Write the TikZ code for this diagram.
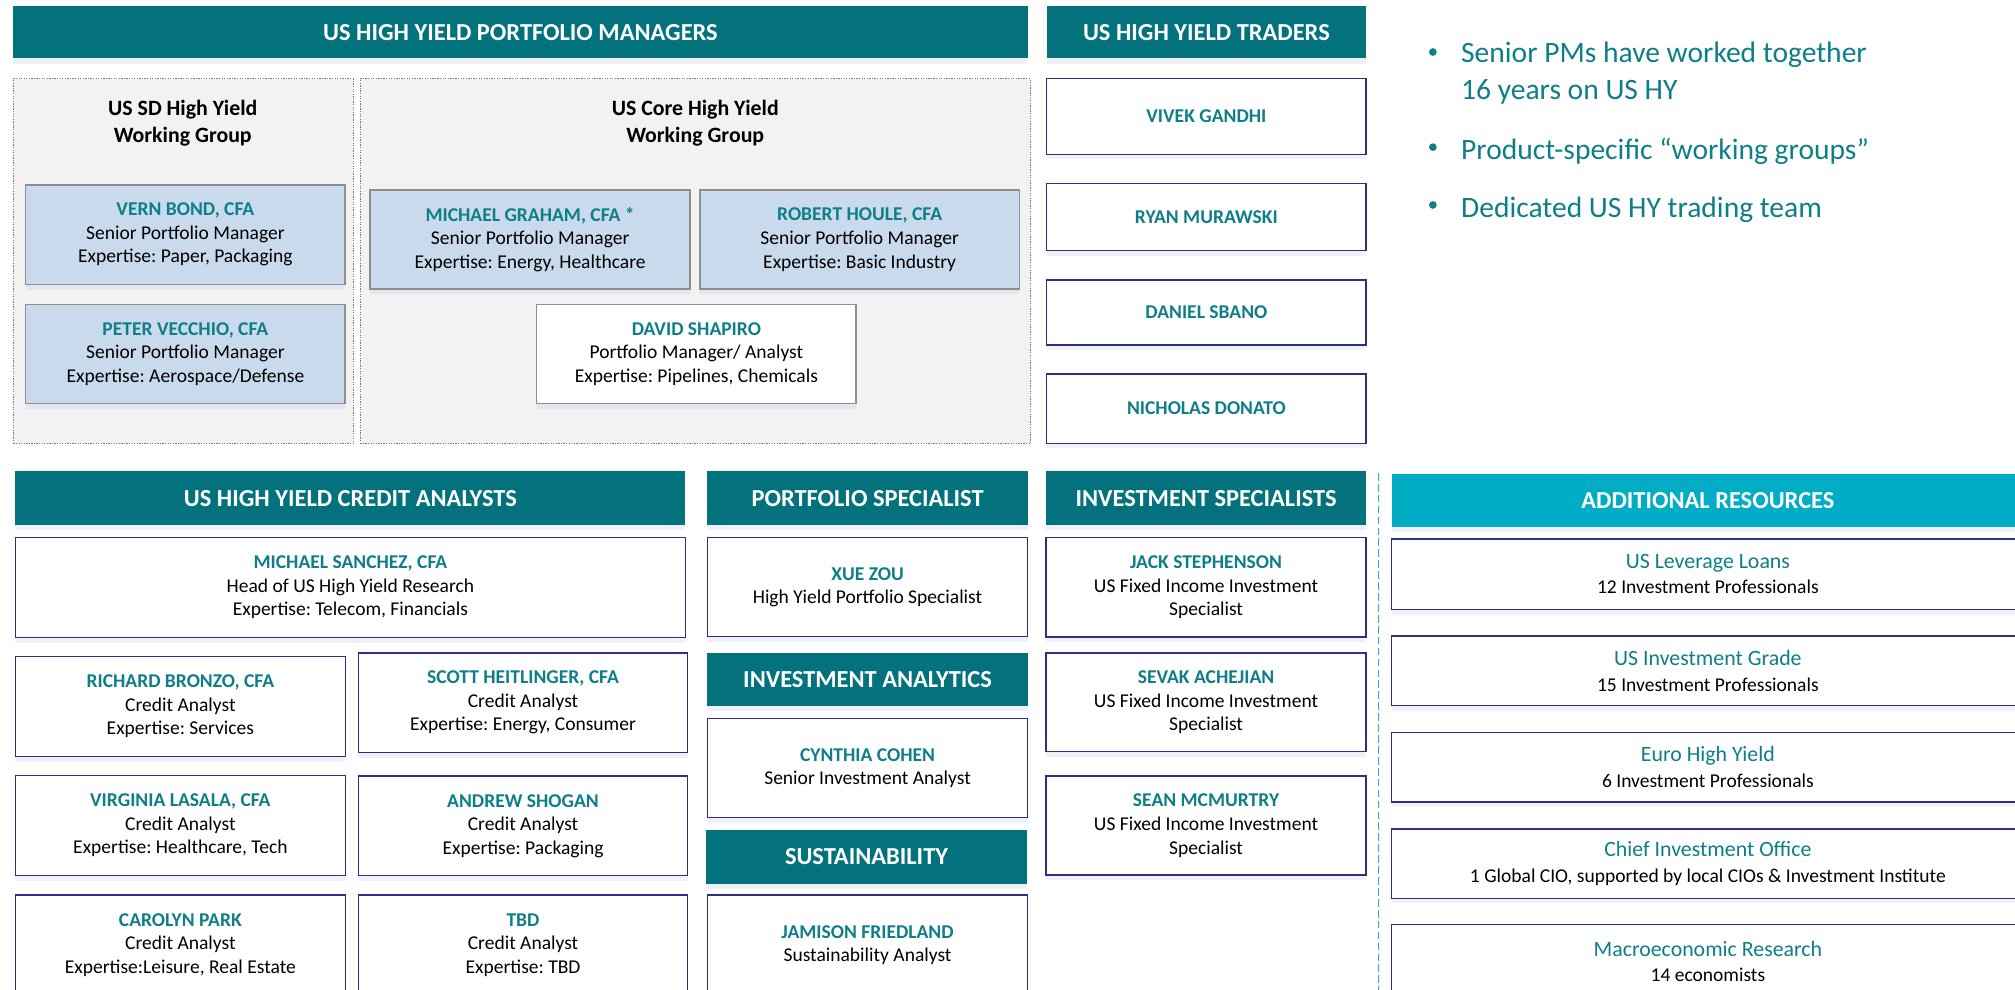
\documentclass[tikz,border=0pt]{standalone}
\usepackage{fontspec}
\setmainfont{Carlito}
\usetikzlibrary{shadows}
\frenchspacing

\definecolor{hdark}{HTML}{03727C}
\definecolor{hlight}{HTML}{00ADC4}
\definecolor{nametxt}{HTML}{0E7E88}
\definecolor{pmfill}{HTML}{C9DAEC}
\definecolor{pmline}{HTML}{8E8E8E}
\definecolor{grpfill}{HTML}{F2F2F2}
\definecolor{grpline}{HTML}{7A7A7A}
\definecolor{navyline}{HTML}{2E2E86}
\definecolor{sepline}{HTML}{1FB4CB}
\definecolor{shade}{HTML}{8F9FD8}

\tikzset{
  box/.style={anchor=north west, inner sep=0pt, outer sep=0pt, align=center,
    line width=1.1pt, font=\fontsize{15.2}{18.3}\selectfont,
    drop shadow={shadow xshift=0pt, shadow yshift=-4pt, opacity=0.14, fill=shade}},
  headbar/.style={box, fill=hdark, text=white, font=\bfseries\fontsize{19}{22}\selectfont},
  sidebar/.style={headbar, fill=hlight},
  pmbox/.style={box, fill=pmfill, draw=pmline},
  wbox/.style={box, fill=white, draw=navyline},
  grpbox/.style={anchor=north west, inner sep=0pt, fill=grpfill, draw=grpline,
    line width=0.8pt, dash pattern=on 1pt off 1pt},
  grptitle/.style={align=center, inner sep=0pt, font=\bfseries\fontsize{17}{20.8}\selectfont},
  tradebox/.style={wbox, text=nametxt, font=\bfseries\fontsize{15.2}{18.3}\selectfont},
  resbox/.style={wbox, font=\fontsize{15.2}{20}\selectfont},
  bullettxt/.style={anchor=west, align=left, inner sep=0pt, text=nametxt,
    font=\fontsize{23}{28.5}\selectfont},
}
\newcommand\nm[1]{{\bfseries\color{nametxt}#1}}
\newcommand\restitle[1]{{\fontsize{17}{20}\selectfont\color{nametxt}#1}}

\begin{document}
\begin{tikzpicture}[x=1pt, y=-1pt]
\useasboundingbox (0,0) rectangle (1568,770);
\clip (0,0) rectangle (1568,770);

% ---------- portfolio managers ----------
\node[headbar, minimum width=790, minimum height=40.5] (hpm) at (10,5) {US HIGH YIELD PORTFOLIO MANAGERS};
\node[headbar, minimum width=248.5, minimum height=40.5] (htr) at (814.5,5) {US HIGH YIELD TRADERS};

\node[grpbox, minimum width=264.5, minimum height=284] (gsd) at (10,61) {};
\node[grpbox, minimum width=521.5, minimum height=284] (gcore) at (280,61) {};
\node[grptitle] (tsd) at (142.2,96) {US SD High Yield\\Working Group};
\node[grptitle] (tcore) at (541,96) {US Core High Yield\\Working Group};

\node[pmbox, minimum width=248.5, minimum height=77.3] (vern) at (20,144)
  {\nm{VERN BOND, CFA}\\Senior Portfolio Manager\\Expertise: Paper, Packaging};
\node[pmbox, minimum width=248.5, minimum height=77] (peter) at (20,237)
  {\nm{PETER VECCHIO, CFA}\\Senior Portfolio Manager\\Expertise: Aerospace/Defense};
\node[pmbox, minimum width=249, minimum height=77] (graham) at (288,148)
  {\nm{MICHAEL GRAHAM, CFA *}\\Senior Portfolio Manager\\Expertise: Energy, Healthcare};
\node[pmbox, minimum width=248.5, minimum height=77] (houle) at (544.7,148)
  {\nm{ROBERT HOULE, CFA}\\Senior Portfolio Manager\\Expertise: Basic Industry};
\node[box, fill=white, draw=pmline, minimum width=248.6, minimum height=77] (shapiro) at (417.6,237)
  {\nm{DAVID SHAPIRO}\\Portfolio Manager/ Analyst\\Expertise: Pipelines, Chemicals};

% ---------- traders ----------
\node[tradebox, minimum width=248.5, minimum height=59] (vivek) at (814.5,61) {VIVEK GANDHI};
\node[tradebox, minimum width=248.5, minimum height=52] (ryan) at (814.5,143) {RYAN MURAWSKI};
\node[tradebox, minimum width=248.5, minimum height=50.5] (daniel) at (814.5,218) {DANIEL SBANO};
\node[tradebox, minimum width=248.5, minimum height=54] (nicholas) at (814.5,291) {NICHOLAS DONATO};

% ---------- key points ----------
\fill[nametxt] (1115,40.5) circle (3pt);
\fill[nametxt] (1115,114.5) circle (3pt);
\fill[nametxt] (1115,159.5) circle (3pt);
\node[bullettxt] (pt1) at (1136.8,57) {Senior PMs have worked together\\16 years on US HY};
\node[bullettxt] (pt2) at (1136.8,118) {Product-specific “working groups”};
\node[bullettxt] (pt3) at (1136.8,162.9) {Dedicated US HY trading team};

% ---------- credit analysts ----------
\node[headbar, minimum width=521.3, minimum height=42] (hca) at (12,366.6) {US HIGH YIELD CREDIT ANALYSTS};
\node[wbox, minimum width=521.3, minimum height=77.6] (sanchez) at (12,418.4)
  {\nm{MICHAEL SANCHEZ, CFA}\\Head of US High Yield Research\\Expertise: Telecom, Financials};
\node[wbox, minimum width=256.7, minimum height=77.6] (bronzo) at (12,511)
  {\nm{RICHARD BRONZO, CFA}\\Credit Analyst\\Expertise: Services};
\node[wbox, minimum width=256.4, minimum height=77.5] (heitlinger) at (278.8,508)
  {\nm{SCOTT HEITLINGER, CFA}\\Credit Analyst\\Expertise: Energy, Consumer};
\node[wbox, minimum width=256.7, minimum height=77.6] (lasala) at (12,603.6)
  {\nm{VIRGINIA LASALA, CFA}\\Credit Analyst\\Expertise: Healthcare, Tech};
\node[wbox, minimum width=256.4, minimum height=77.2] (shogan) at (278.8,604)
  {\nm{ANDREW SHOGAN}\\Credit Analyst\\Expertise: Packaging};
\node[wbox, minimum width=256.7, minimum height=77.8] (park) at (12,696.5)
  {\nm{CAROLYN PARK}\\Credit Analyst\\Expertise:Leisure, Real Estate};
\node[wbox, minimum width=256.4, minimum height=77.8] (tbd) at (278.8,696.5)
  {\nm{TBD}\\Credit Analyst\\Expertise: TBD};

% ---------- portfolio specialist / analytics / sustainability ----------
\node[headbar, minimum width=249.2, minimum height=42] (hps) at (550.5,366.6) {PORTFOLIO SPECIALIST};
\node[wbox, minimum width=249.2, minimum height=77.1] (zou) at (550.5,418.4)
  {\nm{XUE ZOU}\\High Yield Portfolio Specialist};
\node[headbar, minimum width=249.2, minimum height=41.4] (hia) at (550.5,508) {INVESTMENT ANALYTICS};
\node[wbox, minimum width=249.2, minimum height=77.3] (cohen) at (550.5,559)
  {\nm{CYNTHIA COHEN}\\Senior Investment Analyst};
\node[headbar, minimum width=249.5, minimum height=41.7] (hsus) at (549.5,646) {SUSTAINABILITY};
\node[wbox, minimum width=249.2, minimum height=78] (friedland) at (550.5,696.5)
  {\nm{JAMISON FRIEDLAND}\\Sustainability Analyst};

% ---------- investment specialists ----------
\node[headbar, minimum width=249, minimum height=42] (his) at (814,366.6) {INVESTMENT SPECIALISTS};
\node[wbox, minimum width=249, minimum height=77.3] (stephenson) at (814,418.4)
  {\nm{JACK STEPHENSON}\\US Fixed Income Investment\\Specialist};
\node[wbox, minimum width=249, minimum height=77] (achejian) at (814,508)
  {\nm{SEVAK ACHEJIAN}\\US Fixed Income Investment\\Specialist};
\node[wbox, minimum width=249, minimum height=77] (mcmurtry) at (814,604)
  {\nm{SEAN MCMURTRY}\\US Fixed Income Investment\\Specialist};

% ---------- separator ----------
\coordinate (septop) at (1072.7,368);
\coordinate (sepbot) at (1072.7,775);
\draw[sepline, line width=1.4pt, dash pattern=on 6pt off 2.5pt] (septop) -- (sepbot);

% ---------- additional resources ----------
\node[sidebar, minimum width=492, minimum height=41.5] (hadd) at (1083,368.5) {ADDITIONAL RESOURCES};
\node[resbox, minimum width=492, minimum height=54.9] (rlev) at (1083,419.3)
  {\restitle{US Leverage Loans}\\12 Investment Professionals};
\node[resbox, minimum width=492, minimum height=54.1] (rig) at (1083,494.9)
  {\restitle{US Investment Grade}\\15 Investment Professionals};
\node[resbox, minimum width=492, minimum height=54.1] (reuro) at (1083,570)
  {\restitle{Euro High Yield}\\6 Investment Professionals};
\node[resbox, minimum width=492, minimum height=54] (rcio) at (1083,645)
  {\restitle{Chief Investment Office}\\1 Global CIO, supported by local CIOs \& Investment Institute};
\node[resbox, minimum width=492, minimum height=57.4] (rmacro) at (1083,719.5)
  {\restitle{Macroeconomic Research}\\14 economists};
\end{tikzpicture}
\end{document}
